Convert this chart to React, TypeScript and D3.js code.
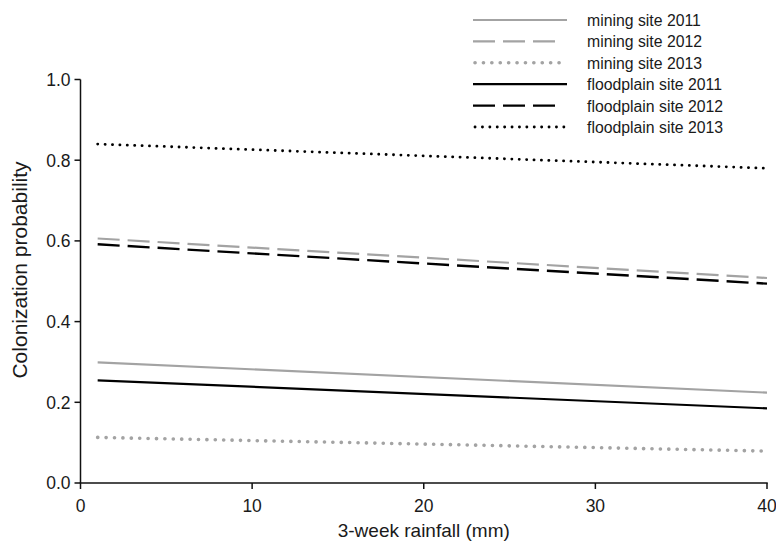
import React from "react";
import * as d3 from "d3";

const rainfall = [1, 40];
const seriesNames = [
  "mining site 2011",
  "mining site 2012",
  "mining site 2013",
  "floodplain site 2011",
  "floodplain site 2012",
  "floodplain site 2013",
];
const miningSite2011 = [0.299, 0.224];
const miningSite2012 = [0.606, 0.508];
const miningSite2013 = [0.113, 0.079];
const floodplainSite2011 = [0.2545, 0.185];
const floodplainSite2012 = [0.5916, 0.494];
const floodplainSite2013 = [0.84, 0.78];
const xTicks = [0, 10, 20, 30, 40];
const yTicks = [0.0, 0.2, 0.4, 0.6, 0.8, 1.0];

const seriesValues = [
  miningSite2011,
  miningSite2012,
  miningSite2013,
  floodplainSite2011,
  floodplainSite2012,
  floodplainSite2013,
];

const GRAY = "#a3a3a3";
const BLACK = "#000";
const styles = [
  { stroke: GRAY, width: 2.2, dash: undefined as string | undefined, cap: "butt" },
  { stroke: GRAY, width: 2.2, dash: "22 8", cap: "butt" },
  { stroke: GRAY, width: 3.6, dash: "0.1 8.3", cap: "round" },
  { stroke: BLACK, width: 2.2, dash: undefined, cap: "butt" },
  { stroke: BLACK, width: 2.4, dash: "22 8", cap: "butt" },
  { stroke: BLACK, width: 2.8, dash: "0.1 7.3", cap: "round" },
];

const FONT = "'Liberation Sans', Arial, Helvetica, sans-serif";
const TEXT = "#1a1a1a";

export default function App() {
  const x = d3.scaleLinear().domain([0, 40]).range([80.5, 767]);
  const y = d3.scaleLinear().domain([0, 1]).range([483, 79.5]);
  const line = d3
    .line<[number, number]>()
    .x((d) => x(d[0]))
    .y((d) => y(d[1]));

  const legendX0 = 473;
  const legendX1 = 567;
  const legendY0 = 20;
  const legendStep = 21.4;

  return (
    <svg
      width={776}
      height={550}
      style={{ position: "absolute", left: 0, top: 0, background: "#fff" }}
      fontFamily={FONT}
    >
      <rect x={0} y={0} width={776} height={550} fill="#fff" />
      {/* axes */}
      <line x1={x(0)} x2={x(0)} y1={y(1)} y2={y(0)} stroke="#111" strokeWidth={1.5} />
      <line x1={x(0) - 0.75} x2={x(40) + 0.75} y1={y(0)} y2={y(0)} stroke="#111" strokeWidth={1.5} />
      {yTicks.map((t) => (
        <g key={"y" + t}>
          <line x1={x(0) - 6} x2={x(0)} y1={y(t)} y2={y(t)} stroke="#111" strokeWidth={1.5} />
          <text
            x={x(0) - 10}
            y={y(t)}
            dy="0.36em"
            textAnchor="end"
            fontSize={17.5}
            fill={TEXT}
          >
            {d3.format(".1f")(t)}
          </text>
        </g>
      ))}
      {xTicks.map((t) => (
        <g key={"x" + t}>
          <line x1={x(t)} x2={x(t)} y1={y(0)} y2={y(0) + 6} stroke="#111" strokeWidth={1.5} />
          <text x={x(t)} y={512} textAnchor="middle" fontSize={17.5} fill={TEXT}>
            {t}
          </text>
        </g>
      ))}
      <text
        x={(x(0) + x(40)) / 2}
        y={537}
        textAnchor="middle"
        fontSize={19}
        fill={TEXT}
      >
        3-week rainfall (mm)
      </text>
      <text
        transform={`translate(27,270) rotate(-90)`}
        textAnchor="middle"
        fontSize={21}
        fill={TEXT}
      >
        Colonization probability
      </text>
      {/* series */}
      {seriesValues.map((vals, i) => {
        const pts = rainfall.map((r, j) => [r, vals[j]] as [number, number]);
        const s = styles[i];
        return (
          <path
            key={seriesNames[i]}
            d={line(pts) || ""}
            fill="none"
            stroke={s.stroke}
            strokeWidth={s.width}
            strokeDasharray={s.dash}
            strokeLinecap={s.cap as any}
          />
        );
      })}
      {/* legend */}
      {seriesNames.map((name, i) => {
        const s = styles[i];
        const ly = legendY0 + i * legendStep;
        return (
          <g key={"leg" + name}>
            <line
              x1={legendX0 + (s.cap === "round" ? 2 : 0)}
              x2={s.dash && s.cap !== "round" ? legendX0 + 88 : legendX1}
              y1={ly}
              y2={ly}
              stroke={s.stroke}
              strokeWidth={s.width}
              strokeDasharray={s.dash}
              strokeLinecap={s.cap as any}
            />
            <text x={587} y={ly + 6} fontSize={15.8} fill={TEXT}>
              {name}
            </text>
          </g>
        );
      })}
    </svg>
  );
}
